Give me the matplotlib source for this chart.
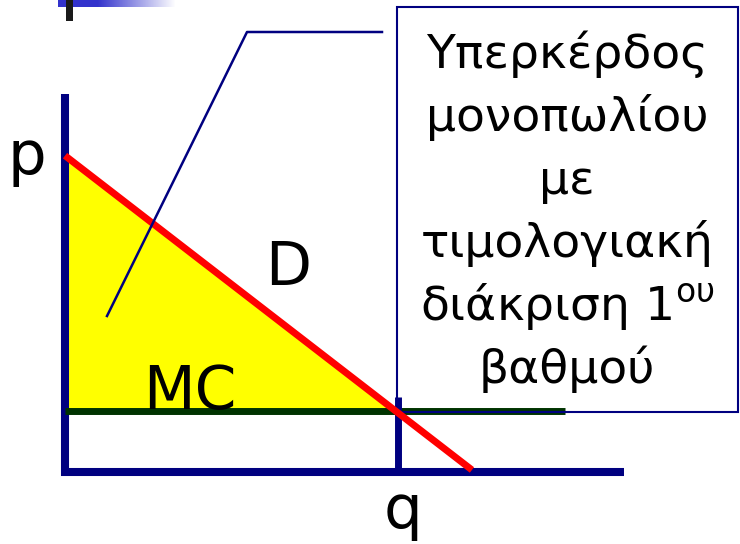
import numpy as np
import matplotlib
matplotlib.use("Agg")
import matplotlib.pyplot as plt
from matplotlib.patches import Rectangle, Polygon
from matplotlib.lines import Line2D

# economic values (arbitrary units: 1 unit ~ 33.3 px)
demand_p0 = 9.5        # price intercept of demand
demand_q0 = 12.3       # quantity intercept of demand
demand_q_end = 12.22   # where the drawn demand line stops
mc_level = 1.83        # constant marginal cost
mc_q_end = 15.0        # where the MC line stops
q_star = 10.0          # quantity where p = MC
p_axis_top = 11.35
q_axis_end = 16.8

labels = {"p": "p", "q": "q", "D": "D", "MC": "MC"}
box_lines = ["Υπερκέρδος", "μονοπωλίου", "με", "τιμολογιακή",
             "διάκριση 1$^{\\mathrm{ου}}$", "βαθμού"]

NAVY = "#000080"
RED = "#ff0000"
GREEN = "#003300"
YELLOW = "#ffff00"

W, H = 740, 544
unit = 33.3
ox, oy = 65, 472   # pixel position of the origin

fig = plt.figure(figsize=(W / 100, H / 100), dpi=100)
ax = fig.add_axes([0, 0, 1, 1])
ax.set_xlim(-ox / unit, (W - ox) / unit)
ax.set_ylim(-(H - oy) / unit, oy / unit)
ax.axis("off")


def px(x, y):
    """pixel position (top-left origin) -> data coords"""
    return (x - ox) / unit, (oy - y) / unit


def demand(q):
    return demand_p0 * (1 - q / demand_q0)


# consumer surplus area captured by the monopolist
q_cross = demand_q0 * (1 - mc_level / demand_p0)
ax.add_patch(Polygon([(0, demand_p0), (0, mc_level), (q_cross, mc_level)],
                     closed=True, facecolor=YELLOW, edgecolor="none", zorder=1))

# axes
ax.plot([0, 0], [-0.12, p_axis_top], color=NAVY, lw=5.8,
        solid_capstyle="butt", zorder=2)
ax.plot([-0.12, q_axis_end], [0, 0], color=NAVY, lw=5.8,
        solid_capstyle="butt", zorder=2)

# MC and demand
ax.plot([0, mc_q_end], [mc_level, mc_level], color=GREEN, lw=5.0,
        solid_capstyle="butt", zorder=3)
qq = np.array([0, demand_q_end])
ax.plot(qq, demand(qq), color=RED, lw=5.0, solid_capstyle="butt", zorder=5)

# quantity marker
ax.plot([q_star, q_star], [0, 2.25], color=NAVY, lw=5.0,
        solid_capstyle="butt", zorder=4)

# labels
ax.text(*px(27, 174), labels["p"], fontsize=44, ha="center", va="baseline")
ax.text(*px(288, 285), labels["D"], fontsize=43, ha="center", va="baseline")
ax.text(*px(190, 409), labels["MC"], fontsize=43, ha="center",
        va="baseline", zorder=4)
ax.text(*px(403, 528), labels["q"], fontsize=44, ha="center", va="baseline")

# text box
ax.add_patch(Rectangle((397 / W, 1 - 412 / H), 341 / W, 405 / H,
                       transform=fig.transFigure, facecolor="none",
                       edgecolor=NAVY, lw=1.5, zorder=3))
for i, line in enumerate(box_lines):
    fig.text(567 / W, 1 - (68 + 63 * i) / H, line, fontsize=34,
             ha="center", va="baseline")

# callout line
fig.add_artist(Line2D([107 / W, 247 / W, 382 / W],
                      [1 - 316 / H, 1 - 32 / H, 1 - 32 / H],
                      color=NAVY, lw=1.8, zorder=6))

# remains of the slide header at the top left
gax = fig.add_axes([58 / W, 1 - 7 / H, 117 / W, 7 / H])
grad = np.ones((1, 117, 3))
t = np.clip((np.arange(117) - 39) / 78, 0, 1)
base = np.array([0.2, 0.2, 0.8])
grad[0] = base[None, :] * (1 - t[:, None]) + t[:, None]
gax.imshow(grad, aspect="auto")
gax.axis("off")
fig.add_artist(Rectangle((66 / W, 1 - 21 / H), 7 / W, 21 / H,
                         transform=fig.transFigure, facecolor="#1a1a1a",
                         edgecolor="none", zorder=10))

fig.savefig("out.png", dpi=100)
